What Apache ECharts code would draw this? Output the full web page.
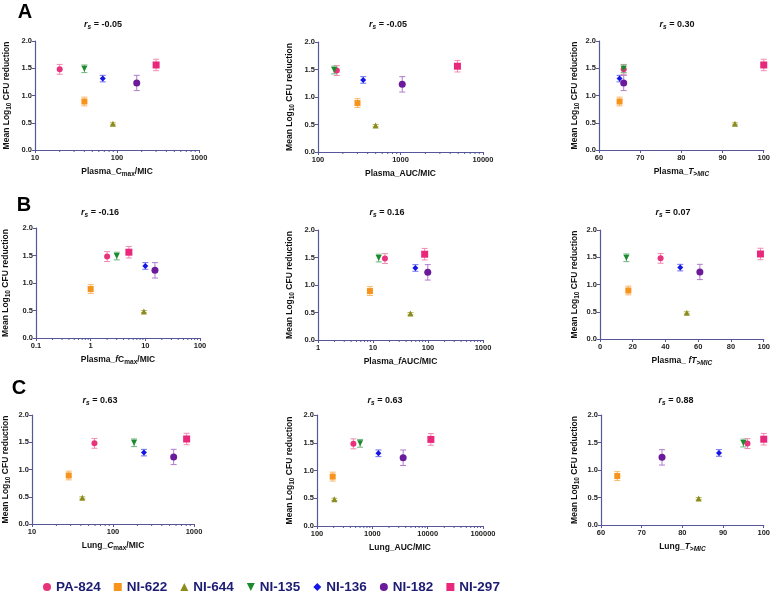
<!DOCTYPE html>
<html><head><meta charset="utf-8">
<script src="https://cdn.jsdelivr.net/npm/echarts@6/dist/echarts.min.js"></script>
<style>html,body{margin:0;padding:0;background:#fff}#c{width:773px;height:591px}</style>
</head><body><div id="c"></div>
<script>
// ---------- data ----------
const compounds = ['PA-824','NI-622','NI-644','NI-135','NI-136','NI-182','NI-297'];
const meanReduction = [1.48, 0.89, 0.48, 1.49, 1.31, 1.23, 1.56];
const errorSD       = [0.09, 0.08, 0.02, 0.07, 0.06, 0.14, 0.105];
const plasmaCmaxMIC  = [20, 40, 89, 40, 67, 174, 300];
const plasmaAUCMIC   = [169, 301, 499, 157, 353, 1050, 4900];
const plasmaTMIC     = [66, 65, 93, 66, 65, 66, 100];
const plasmaFCmaxMIC = [2, 1, 9.4, 3, 10, 15, 5];
const plasmaFAUCMIC  = [16.5, 8.8, 48, 12.7, 59, 99, 87];
const plasmaFTMIC    = [37, 17.3, 53, 16.1, 49, 61, 98];
const lungCmaxMIC    = [59, 28.4, 41.8, 182, 241, 561, 811];
const lungAUCMIC     = [455, 192, 206, 601, 1289, 3605, 11430];
const lungTMIC       = [96, 64, 84, 95, 89, 75, 100];
const rsValues = ['-0.05','-0.05','0.30','-0.16','0.16','0.07','0.63','0.63','0.88'];
const panelLetters = ['A','B','C'];

// ---------- styles ----------
const colors    = ['#e8327c','#f7941d','#8c8c1e','#1d8a2e','#1515e6','#6a1a9a','#e9287c'];
const errColors = ['#f08ab2','#f9b86a','#b8b86a','#6cb57a','#7070f0','#b07ccc','#f08ab2'];
const symbols = ['circle','rect','triangle','path://M0,0 L10,0 L5,10 Z','diamond','circle','rect'];
const symSizes = [6,6,6,6,6,7,7];
const axisCol = '#56569a';
const FONT = 'Liberation Sans, Arial, sans-serif';

const panels = [
  {x: plasmaCmaxMIC, type:'log', min:10, max:1000, name:'Plasma_C{sub|max}/MIC'},
  {x: plasmaAUCMIC, type:'log', min:100, max:10000, name:'Plasma_AUC/MIC'},
  {x: plasmaTMIC, type:'value', min:60, max:100, interval:10, name:'Plasma_{i|T}{isub|>MIC}'},
  {x: plasmaFCmaxMIC, type:'log', min:0.1, max:100, name:'Plasma_{i|f}C{sub|max}/MIC'},
  {x: plasmaFAUCMIC, type:'log', min:1, max:1000, name:'Plasma_{i|f}AUC/MIC'},
  {x: plasmaFTMIC, type:'value', min:0, max:100, interval:20, name:'Plasma_ {i|fT}{isub|>MIC}'},
  {x: lungCmaxMIC, type:'log', min:10, max:1000, name:'Lung_{i|C}{sub|max}/MIC'},
  {x: lungAUCMIC, type:'log', min:100, max:100000, name:'Lung_AUC/MIC'},
  {x: lungTMIC, type:'value', min:60, max:100, interval:10, name:'Lung_{i|T}{isub|>MIC}'}
];
const grids = [
  {left:35, top:41, width:164, height:109},
  {left:318, top:42, width:165, height:110},
  {left:599, top:41, width:165, height:109},
  {left:36, top:228, width:164, height:110},
  {left:318, top:230, width:165, height:110},
  {left:600, top:230, width:164, height:109},
  {left:32, top:415, width:162, height:109},
  {left:317, top:415, width:166, height:111},
  {left:601, top:415, width:164, height:110}
];
const yNameGaps = [22,22,18,24,22,19,20,21,20];
const titlePos = [[103,25],[388,25],[677,25],[100,213],[387,213],[673,213],[100,401],[385,401],[676,401]];
const letterPos = [[25,12],[24,205],[19,388]];

const nameRich = {
  b:{fontSize:8.5, fontWeight:'bold', color:'#111', fontFamily:FONT, lineHeight:12, verticalAlign:'middle'},
  i:{fontSize:8.5, fontWeight:'bold', fontStyle:'italic', color:'#111', fontFamily:FONT, lineHeight:12, verticalAlign:'middle'},
  sub:{fontSize:6.5, fontWeight:'bold', color:'#111', fontFamily:FONT, lineHeight:12, verticalAlign:'bottom'},
  isub:{fontSize:6.5, fontWeight:'bold', fontStyle:'italic', color:'#111', fontFamily:FONT, lineHeight:12, verticalAlign:'bottom'}
};
function wrapRich(s){
  return s.split(/(\{[a-z]+\|[^}]*\})/).filter(t=>t).map(t=>t.startsWith('{')?t:'{b|'+t+'}').join('');
}
function fmtNum(v){ return String(Number(v.toPrecision(6))); }

const grid = [], xAxis = [], yAxis = [], series = [], graphic = [];
panels.forEach((p, k) => {
  grid.push(grids[k]);
  const xa = {
    gridIndex:k, type:p.type, min:p.min, max:p.max,
    name: wrapRich(p.name), nameLocation:'middle', nameGap:16,
    nameTextStyle:{rich:nameRich, color:'#111', fontSize:8.5, fontWeight:'bold'},
    axisLine:{onZero:false, lineStyle:{color:axisCol, width:1.2}},
    axisTick:{show:true, length:3, lineStyle:{color:axisCol}},
    axisLabel:{fontSize:7.5, fontWeight:'bold', color:'#222', fontFamily:FONT, margin:4, formatter:fmtNum},
    splitLine:{show:false}
  };
  if (p.type === 'log') xa.logBase = 10;
  if (p.interval) xa.interval = p.interval;
  xAxis.push(xa);
  yAxis.push({
    gridIndex:k, type:'value', min:0, max:2, interval:0.5,
    name: wrapRich('Mean Log{sub|10} CFU reduction'), nameLocation:'middle', nameGap:yNameGaps[k],
    nameTextStyle:{rich:nameRich, color:'#111', fontSize:8.5, fontWeight:'bold'},
    axisLine:{show:true, lineStyle:{color:axisCol, width:1.2}},
    axisTick:{show:true, length:3, lineStyle:{color:axisCol}},
    axisLabel:{fontSize:7.5, fontWeight:'bold', color:'#222', fontFamily:FONT, margin:3, formatter:v=>v.toFixed(1)},
    splitLine:{show:false}
  });
  series.push({
    type:'custom', name:'err'+k, xAxisIndex:k, yAxisIndex:k, z:1, silent:true,
    data: compounds.map((c,i)=>[p.x[i], meanReduction[i]-errorSD[i], meanReduction[i]+errorSD[i], i]),
    encode:{x:0, y:[1,2]},
    renderItem:(params, api) => {
      const x = api.value(0), lo = api.value(1), hi = api.value(2), i = api.value(3);
      const a = api.coord([x, hi]), b = api.coord([x, lo]);
      const st = {stroke: errColors[i], lineWidth:1};
      return {type:'group', children:[
        {type:'line', shape:{x1:a[0], y1:a[1], x2:b[0], y2:b[1]}, style:st},
        {type:'line', shape:{x1:a[0]-3, y1:a[1], x2:a[0]+3, y2:a[1]}, style:st},
        {type:'line', shape:{x1:b[0]-3, y1:b[1], x2:b[0]+3, y2:b[1]}, style:st}
      ]};
    }
  });
  compounds.forEach((c,i)=>{
    series.push({
      type:'scatter', name:c, xAxisIndex:k, yAxisIndex:k, z:3,
      symbol:symbols[i], symbolSize:symSizes[i],
      itemStyle:{color:colors[i], opacity:1},
      data:[[p.x[i], meanReduction[i]]]
    });
  });
  if (p.type === 'log') {
    const minor = [];
    for (let e = Math.round(Math.log10(p.min)); e < Math.round(Math.log10(p.max)); e++) {
      for (let m = 2; m <= 9; m++) minor.push([Number((m*Math.pow(10,e)).toPrecision(6)), 0]);
    }
    series.push({
      type:'custom', name:'minor'+k, xAxisIndex:k, yAxisIndex:k, silent:true, clip:false, z:2,
      data:minor,
      renderItem:(params, api) => {
        const pt = api.coord([api.value(0), 0]);
        return {type:'line', shape:{x1:pt[0], y1:pt[1], x2:pt[0], y2:pt[1]+2}, style:{stroke:axisCol, lineWidth:1}};
      }
    });
  }
  graphic.push({
    type:'text', x:titlePos[k][0], y:titlePos[k][1],
    style:{
      text:'{i|r}{s|s}{b| = '+rsValues[k]+'}',
      align:'center', verticalAlign:'middle',
      rich:{
        i:{fontSize:9, fontWeight:'bold', fontStyle:'italic', fontFamily:FONT, fill:'#111', lineHeight:12, verticalAlign:'middle'},
        s:{fontSize:6.5, fontWeight:'bold', fontStyle:'italic', fontFamily:FONT, fill:'#111', lineHeight:12, verticalAlign:'bottom'},
        b:{fontSize:9, fontWeight:'bold', fontFamily:FONT, fill:'#111', lineHeight:12, verticalAlign:'middle'}
      }
    }
  });
});
panelLetters.forEach((L, r) => {
  graphic.push({type:'text', x:letterPos[r][0], y:letterPos[r][1],
    style:{text:L, align:'center', verticalAlign:'middle', fontSize:20, fontWeight:'bold', fontFamily:FONT, fill:'#000'}});
});

const option = {
  animation:false,
  backgroundColor:'#fff',
  grid, xAxis, yAxis, series, graphic,
  legend:{
    data: compounds, left:38, top:575, itemWidth:8, itemHeight:8, itemGap:13,
    textStyle:{fontSize:13.5, fontWeight:'bold', color:'#1c1c72', fontFamily:FONT},
    selectedMode:false
  }
};
const chart = echarts.init(document.getElementById('c'), null, {renderer:'canvas'});
chart.setOption(option);
</script></body></html>
